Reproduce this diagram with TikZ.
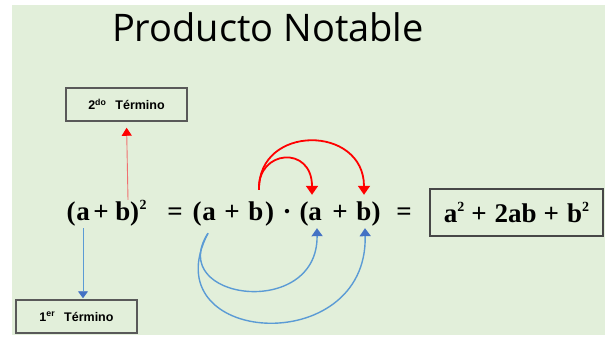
\documentclass[tikz,border=0pt]{standalone}
\usepackage{fontspec}
\setmainfont{Liberation Serif}
\newfontfamily\titlefont{Open Sans}
\newfontfamily\labfont{Liberation Sans}
\usetikzlibrary{arrows.meta,calc}
\definecolor{bggreen}{HTML}{E2EFDA}
\definecolor{boxgray}{HTML}{595959}
\definecolor{lineblue}{HTML}{5B9BD5}
\definecolor{headblue}{HTML}{4472C4}
\definecolor{lightred}{HTML}{F07070}
\newcommand{\sqr}{\raisebox{11pt}{\fontsize{14}{14}\selectfont 2}}
\tikzset{
  tok/.style={font=\fontsize{27}{30}\selectfont\bfseries, inner sep=0pt, anchor=base, text height=19pt, text depth=7pt},
  labelbox/.style={draw=boxgray, line width=1.5pt, minimum width=121pt, minimum height=33pt, inner sep=0pt, font=\labfont\fontsize{12.5}{14}\selectfont\bfseries},
  redarc/.style={red, line width=1.8pt, -{Triangle[width=12pt,length=9pt]}},
  bluearc/.style={lineblue, line width=1.4pt, -{Triangle[width=11pt,length=8pt,color=headblue]}},
}
\begin{document}
\begin{tikzpicture}[x=1pt,y=-1pt]
\useasboundingbox (0,0) rectangle (605,337);
\fill[bggreen] (12,5) rectangle (605,335);

% title
\node[font=\titlefont\fontsize{38}{40}\selectfont, anchor=base] (title) at (268,42) {Producto Notable};

% label boxes
\node[labelbox] (box2) at (126.5,104.5) {2\textsuperscript{do}\hspace{9pt}Término};
\node[labelbox] (box1) at (76.5,316.5) {1\textsuperscript{er}\hspace{9pt}Término};

% equation tokens
\node[tok] (lp1) at (71,220) {(};
\node[tok] (a1) at (83,220) {a};
\node[tok] (pl1) at (101,220) {+};
\node[tok] (b1) at (123,220) {b};
\node[tok] (rp1) at (134.5,220) {)};
\node[inner sep=0pt, anchor=base, font=\fontsize{14}{14}\selectfont\bfseries] (sq1) at (143,209) {2};
\node[tok] (eq1) at (175,220) {=};
\node[tok] (lp2) at (197,220) {(};
\node[tok] (a2) at (209,220) {a};
\node[tok] (pl2) at (232,220) {+};
\node[tok] (b2) at (256,220) {b};
\node[tok] (rp2) at (269.5,220) {)};
\node[tok] (dot) at (287,220) {·};
\node[tok] (lp3) at (304,220) {(};
\node[tok] (a3) at (315,220) {a};
\node[tok] (pl3) at (340,220) {+};
\node[tok] (b3) at (364,220) {b};
\node[tok] (rp3) at (376,220) {)};
\node[tok] (eq2) at (404,220) {=};

% result box
\node[draw=boxgray!80!black, line width=2pt, minimum width=173pt, minimum height=47pt, inner sep=0pt,
      font=\fontsize{27}{30}\selectfont\bfseries] (res) at (516.5,212.5)
  {a\sqr\hspace{7pt}+\hspace{8pt}2ab\hspace{7pt}+\hspace{8pt}b\sqr};

% straight arrows to label boxes
\draw[lightred, line width=0.9pt, -{Triangle[width=10pt,length=8pt,color=red]}, shorten >=6pt]
  ($(b1.north)+(5,-1)$) -- (box2.south);
\draw[lineblue, line width=0.9pt, -{Triangle[width=10pt,length=7pt,color=headblue]}, shorten >=1pt]
  ($(a1.south)+(0,1)$) -- (a1.south |- box1.north);

% red arcs
\draw[redarc] ($(b2.north)+(3,-11)$) .. controls +(-2,-40) and +(0,-50) .. ($(a3.north)+(-3,-6)$);
\draw[redarc] ($(b2.north)+(3,-11)$) .. controls +(-1,-66) and +(0,-70) .. ($(b3.north)+(0,-6)$);

% blue arcs
\draw[bluearc] ($(a2.south)+(-1,6)$) .. controls +(-43,67) and +(1,92) .. ($(a3.south)+(2,1)$);
\draw[bluearc] ($(a2.south)+(-1,6)$) .. controls +(-58,112) and +(3,132) .. ($(b3.south)+(1,1)$);
\end{tikzpicture}
\end{document}
